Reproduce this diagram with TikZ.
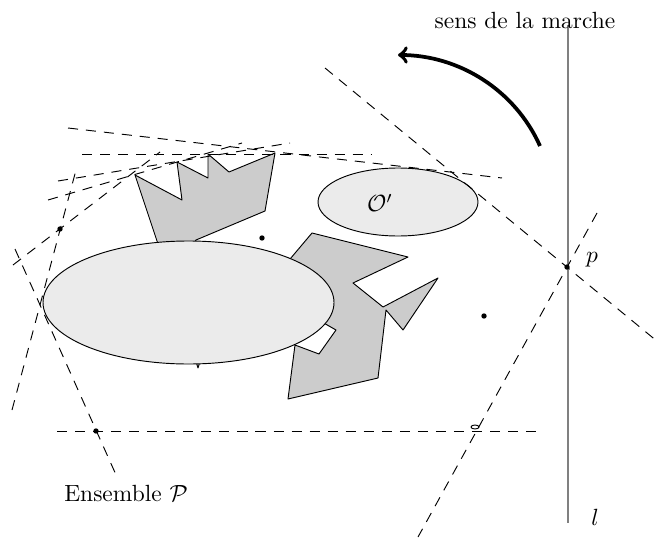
\documentclass[tikz,border=0pt]{standalone}
\usepackage{amssymb}

\begin{document}
\begin{tikzpicture}[x=0.015cm,y=-0.015cm,
    dl/.style={dash pattern=on 4.3pt off 3.4pt},
    obst/.style={draw,fill=black!20,line join=round},
    blob/.style={draw,fill=black!8},
    pt/.style={circle,fill,inner sep=0pt,minimum size=2.3pt}]
      \useasboundingbox (0,0) rectangle (659,537);
      % obstacles
      \draw[obst] (135,175) -- (182,200) -- (177,162) -- (208,178) -- (208,154) -- (229,172) -- (275,153) -- (265,211) -- (196,240) -- (190,250) -- (202,355) -- (198,368) -- (194,355) -- (160,250) -- cycle;
      \draw[obst] (312,233) -- (408,257) -- (353,283) -- (383,307) -- (438,278) -- (403,330) -- (386,310) -- (378,378) -- (288,399) -- (295,345) -- (319,354) -- (336,330) -- (322,322) -- (300,300) -- (285,265) -- cycle;
      \draw[blob] (188.5,302.5) ellipse (145.5 and 61.5);
      \draw[blob] (398,202) ellipse (80 and 34);
      \node (obj) at (380,203) {$\mathcal{O}'$};
      % the line l
      \draw[gray,line width=0.8pt] (568,25) -- (568,523);
      \node (lab-l) at (595,517) {$l$};
      % dashed lines
      \draw[dl] (325,68) -- (658,342);
      \draw[dl] (597,213) -- (418,537);
      \draw[dl] (57,431) -- (538,431);
      \draw[dl] (15,249) -- (117,477);
      \draw[dl] (12,410) -- (76,170);
      \draw[dl] (13,265) -- (160,152);
      \draw[dl] (68,128) -- (502,178);
      \draw[dl] (82,154) -- (372,154);
      \draw[dl] (48,200) -- (242,143);
      \draw[dl] (58,181) -- (290,143);
      % points
      \node[pt] (q1) at (60,229) {};
      \node[pt] (q2) at (262,238) {};
      \node[pt] (q3) at (484,316) {};
      \node[pt] (q4) at (96,431) {};
      \node[pt] (p) at (567,267) {};
      \node (lab-p) at (592,260) {$p$};
      \draw (475,427) ellipse (4 and 2);
      % direction of walk
      \coordinate (a1) at (540,146);
      \coordinate (a2) at (398,55);
      \draw[line width=1.6pt,->] (a1) .. controls (515,90) and (459,55) .. (a2);
      \node (sens) at (525,20) {sens de la marche};
      \node (ens) at (126,493) {Ensemble $\mathcal{P}$};
    \end{tikzpicture}
\end{document}
